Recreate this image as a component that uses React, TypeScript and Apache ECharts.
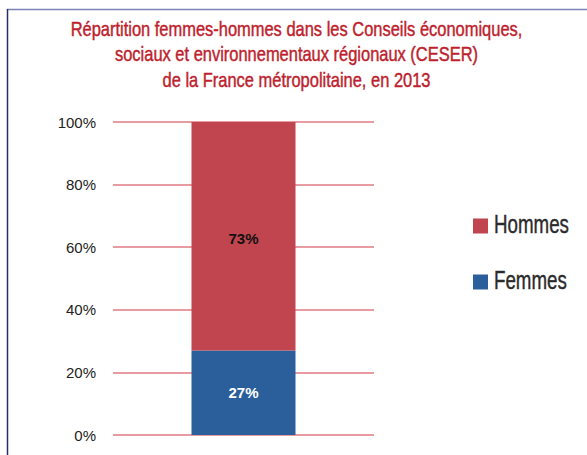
import React, { useEffect, useRef } from "react";
import * as echarts from "echarts";

const categories = ["CESER 2013"];
const seriesNames = ["Femmes", "Hommes"];
const femmes = [27];
const hommes = [73];
const yTicks = [0, 20, 40, 60, 80, 100];
const titleLines = [
  "Répartition femmes-hommes dans les Conseils économiques,",
  "sociaux et environnementaux régionaux (CESER)",
  "de la France métropolitaine, en 2013",
];
const legendItems = ["Hommes", "Femmes"];

const COLORS: Record<string, string> = { Femmes: "#2a5f9b", Hommes: "#c1454f" };
const FONT = "'Liberation Sans', Arial, sans-serif";

function measure(text: string, font: string): number {
  const c = document.createElement("canvas").getContext("2d");
  if (!c) return text.length * 10;
  c.font = font;
  return c.measureText(text).width;
}

export default function App() {
  const ref = useRef<HTMLDivElement>(null);
  useEffect(() => {
    if (!ref.current) return;
    const chart = echarts.init(ref.current, null, { renderer: "svg" });

    const titleSize = 20.5;
    const titleW = measure(titleLines[0], `${titleSize}px 'Liberation Sans'`);
    const titleScale = 452 / titleW;
    const titleBaselines = [36, 61.5, 87];
    const titleCx = 296.5;

    const legSize = 25;
    const legW = measure("Hommes", `${legSize}px 'Liberation Sans'`);
    const legScale = 75 / legW;
    const legBaselines = [233.5, 289.5];

    const titleGraphics = titleLines.map((t, i) => ({
      type: "text",
      x: titleCx,
      y: titleBaselines[i] - 7.2,
      scaleX: titleScale,
      style: {
        text: t,
        fill: "#be1e2d",
        stroke: "#be1e2d",
        lineWidth: 0.45,
        font: `${titleSize}px 'Liberation Sans'`,
        align: "center",
        verticalAlign: "middle",
      },
    }));

    const legendGraphics: any[] = [];
    legendItems.forEach((name, i) => {
      legendGraphics.push({
        type: "rect",
        shape: { x: 473, y: legBaselines[i] - 15, width: 15, height: 15 },
        style: { fill: COLORS[name] },
      });
      legendGraphics.push({
        type: "text",
        x: 494,
        y: legBaselines[i] - 8.7,
        scaleX: legScale,
        style: {
          text: name,
          fill: "#2b2b2b",
          stroke: "#2b2b2b",
          lineWidth: 0.4,
          font: `${legSize}px 'Liberation Sans'`,
          align: "left",
          verticalAlign: "middle",
        },
      });
    });

    chart.setOption({
      animation: false,
      backgroundColor: "#ffffff",
      grid: { left: 113, right: 213, top: 122, bottom: 20 },
      xAxis: {
        type: "category",
        data: categories,
        axisLine: { show: false },
        axisTick: { show: false },
        axisLabel: { show: false },
      },
      yAxis: {
        type: "value",
        min: 0,
        max: 100,
        interval: 20,
        axisLine: { show: false },
        axisTick: { show: false },
        axisLabel: {
          formatter: (v: number) => (yTicks.includes(v) ? v + "%" : ""),
          fontFamily: FONT,
          fontSize: 15,
          color: "#222",
          margin: 17,
        },
        splitLine: { lineStyle: { color: "#e07a80", width: 1.5 } },
      },
      series: [
        {
          name: seriesNames[0],
          type: "bar",
          stack: "total",
          data: femmes,
          barWidth: 104,
          itemStyle: { color: COLORS.Femmes },
          label: {
            show: true,
            position: "inside",
            formatter: "{c}%",
            color: "#ffffff",
            fontWeight: "bold",
            fontSize: 15,
            fontFamily: FONT,
          },
        },
        {
          name: seriesNames[1],
          type: "bar",
          stack: "total",
          data: hommes,
          barWidth: 104,
          itemStyle: { color: COLORS.Hommes },
          label: {
            show: true,
            position: "inside",
            offset: [0, 2],
            formatter: "{c}%",
            color: "#111111",
            fontWeight: "bold",
            fontSize: 15,
            fontFamily: FONT,
          },
        },
      ],
      graphic: [
        {
          type: "line",
          shape: { x1: 7, y1: 9.5, x2: 587, y2: 9.5 },
          style: { stroke: "#7e80b8", lineWidth: 1.5 },
        },
        {
          type: "line",
          shape: { x1: 7.5, y1: 9, x2: 7.5, y2: 455 },
          style: { stroke: "#2c2c6c", lineWidth: 1.5 },
        },
        ...titleGraphics,
        ...legendGraphics,
      ],
    });
    return () => chart.dispose();
  }, []);
  return (
    <div
      ref={ref}
      style={{ position: "fixed", left: 0, top: 0, width: 587, height: 455 }}
    />
  );
}
